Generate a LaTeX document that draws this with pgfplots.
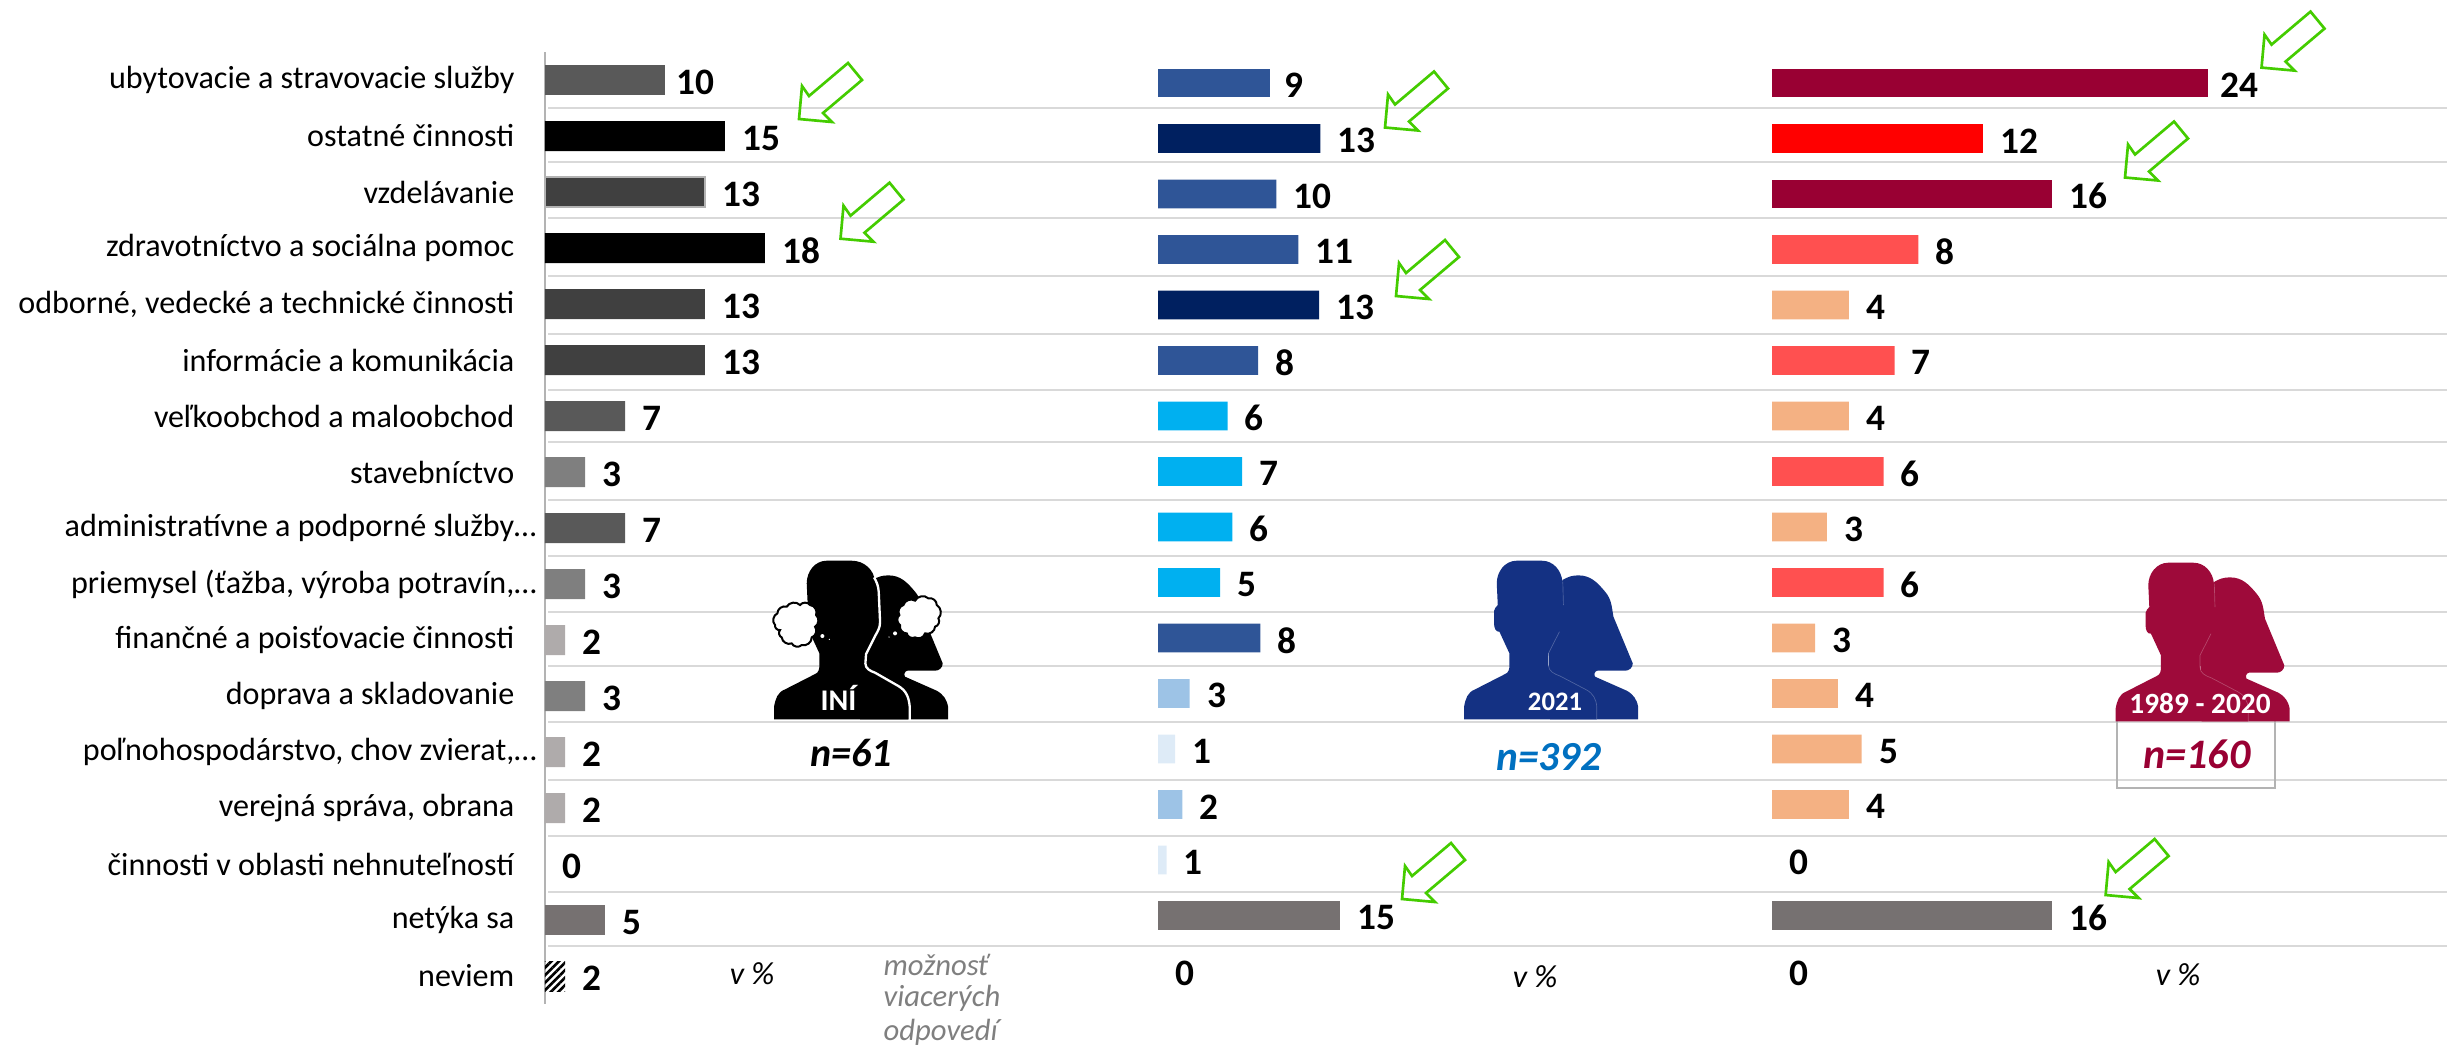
\documentclass[border=0pt]{standalone}
\usepackage{fontspec}
\setmainfont{Carlito}
\usepackage{pgfplots}
\pgfplotsset{compat=1.18}
\usetikzlibrary{patterns.meta}

% 1 px of the reference = 0.3pt
\definecolor{gridc}{HTML}{D9D9D9}
\definecolor{axisc}{HTML}{B3B3B3}
\definecolor{netyka}{HTML}{767171}
\definecolor{g1}{HTML}{595959}
\definecolor{g2}{HTML}{404040}
\definecolor{g3}{HTML}{7F7F7F}
\definecolor{g4}{HTML}{AFABAB}
\definecolor{b1}{HTML}{2F5597}
\definecolor{b2}{HTML}{002060}
\definecolor{b3}{HTML}{00B0F0}
\definecolor{b4}{HTML}{9DC3E6}
\definecolor{b5}{HTML}{DEEBF7}
\definecolor{r1}{HTML}{990033}
\definecolor{r2}{HTML}{FF0000}
\definecolor{r3}{HTML}{FF5050}
\definecolor{r4}{HTML}{F4B183}
\definecolor{arrowc}{HTML}{44CC00}
\definecolor{sblue}{HTML}{143183}
\definecolor{sred}{HTML}{9E0A3A}
\definecolor{nblue}{HTML}{0070C0}

\newcommand{\vfont}{\fontsize{11.2}{13}\selectfont\bfseries}
\newcommand{\lfont}{\fontsize{9.63}{11}\selectfont}

\pgfplotsset{
  panel/.style={
    xbar, bar shift=0pt, scale only axis, y dir=reverse,
    xmin=0, ymin=-0.5, ymax=16.5, clip=false,
    point meta=explicit symbolic, nodes near coords,
    every node near coord/.style={font=\vfont, anchor=west, inner sep=0pt, xshift=5pt, yshift=-0.7pt, text=black},
  },
  gap/.style={every node near coord/.append style={xshift=#1}},
}

\newcommand{\greenarrow}[2]{%
  \draw[arrowc, line width=0.8pt, fill=none, shift={(#1,#2)}]
    (0,0) -- (3,-33) -- (10,-23) -- (49,-56) -- (63,-39) -- (24,-6) -- (33,3) -- cycle;}

% head and shoulders, units are 1/3 px
\newcommand{\backperson}{(337,90) to[out=30,in=180] (385,76) to[out=0,in=130] (465,125)
    to[out=-50,in=100] (490,200) -- (548,340) to[out=-90,in=0] (525,362) -- (442,362)
    to[out=180,in=130] (435,380) -- (530,422) to[out=-30,in=100] (564,470) -- (564,508)
    -- (300,508) -- (295,310) -- cycle}
\newcommand{\frontperson}{(42,508) -- (42,470) to[out=80,in=200] (75,418) -- (165,372)
    to[out=20,in=-90] (178,345) -- (178,310) -- (148,245) to[out=-170,in=-90] (132,222) -- (132,182)
    to[out=90,in=-120] (143,165) -- (140,100) to[out=90,in=180] (200,32) -- (275,32)
    to[out=0,in=95] (337,95) -- (340,165) to[out=-40,in=90] (350,188) -- (348,220)
    to[out=-90,in=60] (328,245) -- (295,310) -- (295,345) to[out=-90,in=160] (330,378)
    -- (410,420) to[out=-30,in=95] (440,470) -- (440,508) -- cycle}
\newcommand{\people}[3]{%
  \begin{scope}[x=0.1pt, y=-0.1pt, shift={(#1,#2)}]
    \fill[#3] \backperson;
    \fill[#3] \frontperson;
    \draw[white, opacity=0.25, line width=0.2pt] (338,95) -- (340,165) (328,245) -- (295,310) -- (295,345)
      to[out=-90,in=160] (330,378) -- (410,420) to[out=-30,in=95] (440,470) -- (440,508);
  \end{scope}}

\begin{document}
\begin{tikzpicture}
\path[use as bounding box] (0,0) rectangle (734.1pt,-313.5pt);

% grid lines between the rows
\begin{axis}[
  at={(164.4pt,0pt)}, anchor=north west, scale only axis,
  width=569.7pt, height=313.5pt,
  xmin=548, xmax=2447, ymin=0, ymax=1045, y dir=reverse,
  axis line style={draw=none}, tick style={draw=none},
  xtick=\empty, yticklabels={},
  ytick={108,162,218,276,334,390,442,500,556,612,666,722,780,836,892,946},
  ymajorgrids, grid style={gridc, line width=0.75pt},
]
\addplot[draw=none] coordinates {(548,0) (2447,1045)};
\end{axis}

% panel INI
\begin{axis}[
  panel,
  at={(163.5pt,-15.6pt)}, anchor=north west,
  x=3.66pt, y=16.8pt, xmax=40, bar width=9pt,
  axis x line=none, axis y line=left,
  axis line style={-, axisc, line width=0.6pt},
  ytick={0,...,16}, major tick length=0pt,
  yticklabel style={font=\lfont, anchor=east, inner sep=0pt, xshift=-9pt},
  yticklabels={ubytovacie a stravovacie služby, ostatné činnosti, vzdelávanie,
    zdravotníctvo a sociálna pomoc, {odborné, vedecké a technické činnosti},
    informácie a komunikácia, veľkoobchod a maloobchod, stavebníctvo,
    administratívne a podporné služby\rlap{…}, {priemysel (ťažba, výroba potravín,\rlap{…}},
    finančné a poisťovacie činnosti, doprava a skladovanie,
    {poľnohospodárstvo, chov zvierat,\rlap{…}}, {verejná správa, obrana},
    činnosti v oblasti nehnuteľností, netýka sa, neviem},
]
\addplot[fill=g1, draw=none, gap=-1.8pt] coordinates {(9.84,0) [10]};
\addplot[fill=g1, draw=none] coordinates {(6.56,6) [7] (6.56,8) [7]};
\addplot[fill=black, draw=none] coordinates {(14.75,1) [15] (18.03,3) [18]};
\addplot[fill=g2, draw=axisc, line width=0.5pt] coordinates {(13.11,2) [13]};
\addplot[fill=g2, draw=none] coordinates {(13.11,4) [13] (13.11,5) [13]};
\addplot[fill=g3, draw=none] coordinates {(3.28,7) [3] (3.28,9) [3] (3.28,11) [3]};
\addplot[fill=g4, draw=none] coordinates {(1.64,10) [2] (1.64,12) [2] (1.64,13) [2]};
\addplot[draw=none, fill=none] coordinates {(0,14) [0]};
\addplot[fill=netyka, draw=none] coordinates {(4.92,15) [5]};
\addplot[draw=none, pattern={Lines[angle=45,distance=1.6pt,line width=0.8pt]}, pattern color=black] coordinates {(1.64,16) [2]};
\end{axis}

% panel 2021
\begin{axis}[
  panel, hide axis,
  at={(347.4pt,-16.575pt)}, anchor=north west,
  x=3.66pt, y=16.65pt, xmax=40, bar width=8.6pt,
]
\addplot[fill=b1, draw=none, gap=-1pt] coordinates {(9.2,0) [9]};
\addplot[fill=b1, draw=none] coordinates {(9.7,2) [10] (11.5,3) [11] (8.2,5) [8] (8.4,10) [8]};
\addplot[fill=b2, draw=none] coordinates {(13.3,1) [13] (13.2,4) [13]};
\addplot[fill=b3, draw=none] coordinates {(5.7,6) [6] (6.9,7) [7] (6.1,8) [6] (5.1,9) [5]};
\addplot[fill=b4, draw=none] coordinates {(2.6,11) [3] (2.0,13) [2]};
\addplot[fill=b5, draw=none] coordinates {(1.4,12) [1] (0.7,14) [1]};
\addplot[fill=netyka, draw=none] coordinates {(14.9,15) [15]};
\addplot[draw=none, fill=none] coordinates {(0,16) [0]};
\end{axis}

% panel 1989-2020
\begin{axis}[
  panel, hide axis,
  at={(531.6pt,-16.575pt)}, anchor=north west,
  x=5.49pt, y=16.65pt, xmax=36, bar width=8.6pt,
]
\addplot[fill=r1, draw=none, gap=-1.2pt] coordinates {(23.8,0) [24]};
\addplot[fill=r1, draw=none] coordinates {(15.3,2) [16]};
\addplot[fill=r2, draw=none] coordinates {(11.55,1) [12]};
\addplot[fill=r3, draw=none] coordinates {(8.0,3) [8] (6.7,5) [7] (6.1,7) [6] (6.1,9) [6]};
\addplot[fill=r4, draw=none] coordinates {(4.2,4) [4] (4.2,6) [4] (3.0,8) [3] (2.35,10) [3] (3.6,11) [4] (4.9,12) [5] (4.2,13) [4]};
\addplot[draw=none, fill=none] coordinates {(0,14) [0] (0,16) [0]};
\addplot[fill=netyka, draw=none] coordinates {(15.3,15) [16]};
\end{axis}

% figure INI
\begin{scope}[x=0.1pt, y=-0.1pt, shift={(2280,1650)}]
  \fill[black] \backperson;
  \fill[black] (42,508) -- (42,470) to[out=80,in=200] (75,418) -- (165,372)
    to[out=20,in=-90] (178,345) -- (178,310) -- (148,245) -- (143,165) -- (140,100)
    to[out=90,in=180] (200,32) -- (275,32) to[out=0,in=95] (345,95) -- (350,165)
    -- (352,215) -- (310,310) -- (305,345) -- (430,420) -- (445,470) -- (445,508) -- cycle;
  \draw[white, line width=0.7pt] (342,82) to[out=-60,in=95] (356,125) -- (360,215)
    to[out=-90,in=60] (345,258) -- (318,312) -- (316,340) to[out=-90,in=160] (345,368)
    -- (415,408) to[out=-30,in=95] (449,470) -- (449,510);
  \draw[black, line width=0.6pt, fill=white]
    (52,190) to[bend left=55] (80,170) to[bend left=55] (120,165) to[bend left=55] (150,165)
    to[bend left=55] (168,195) to[bend left=55] (165,230) to[bend left=55] (155,262)
    to[bend left=55] (125,285) to[bend left=55] (95,280) to[bend left=55] (65,262)
    to[bend left=55] (60,240) to[bend left=55] (45,225) to[bend left=55] cycle;
  \draw[black, line width=0.6pt, fill=white]
    (430,165) to[bend left=55] (465,152) to[bend left=55] (505,145) to[bend left=55] (530,165)
    to[bend left=55] (535,205) to[bend left=55] (525,230) to[bend left=55] (495,250)
    to[bend left=55] (465,262) to[bend left=55] (440,250) to[bend left=55] (420,225)
    to[bend left=55] (418,195) to[bend left=55] cycle;
  \fill[white] (187,258) circle[radius=6] (208,268) circle[radius=2]
    (405,250) circle[radius=6] (387,261) circle[radius=2];
  \node[white, font=\fontsize{9}{11}\selectfont\bfseries] at (235,445) {INÍ};
\end{scope}

% figures 2021 and 1989-2020
\draw[axisc, line width=0.4pt] (635.1pt,-216.3pt) -- (635.1pt,-236.4pt) -- (682.5pt,-236.4pt) -- (682.5pt,-216.3pt);
\draw[axisc, line width=0.8pt] (635.1pt,-236.4pt) -- (682.5pt,-236.4pt);
\people{4350}{1650}{sblue}
\people{6304.5}{1656}{sred}

\begin{scope}[x=0.3pt, y=-0.3pt]
  \node[font=\fontsize{12}{14}\selectfont\bfseries\itshape] at (851,753) {n=61};
  \node[white, font=\fontsize{8}{9}\selectfont\bfseries] at (1555,702) {2021};
  \node[nblue, font=\fontsize{12.4}{14}\selectfont\bfseries\itshape] at (1549,757) {n=392};
  \node[white, font=\fontsize{8.8}{9}\selectfont\bfseries] at (2200,703.5) {1989 - 2020};
  \node[r1, font=\fontsize{12.6}{14}\selectfont\bfseries\itshape] at (2197,754) {n=160};
  % notes
  \node[font=\lfont\itshape] at (752,974) {v \%};
  \node[font=\lfont\itshape] at (1535,977) {v \%};
  \node[font=\lfont\itshape] at (2178,975) {v \%};
  \node[g3, font=\fontsize{9.2}{11}\selectfont\itshape, anchor=west, inner sep=0pt] at (883,965) {možnosť};
  \node[g3, font=\fontsize{9.2}{11}\selectfont\itshape, anchor=west, inner sep=0pt] at (883,998) {viacerých};
  \node[g3, font=\fontsize{9.2}{11}\selectfont\itshape, anchor=west, inner sep=0pt] at (883,1032) {odpovedí};
  % arrows
  \greenarrow{799}{119}
  \greenarrow{840.5}{238.7}
  \greenarrow{1385}{127.5}
  \greenarrow{1396}{296}
  \greenarrow{2261.5}{67.6}
  \greenarrow{2125}{177.5}
  \greenarrow{1402}{899}
  \greenarrow{2105.6}{895}
\end{scope}
\end{tikzpicture}
\end{document}
